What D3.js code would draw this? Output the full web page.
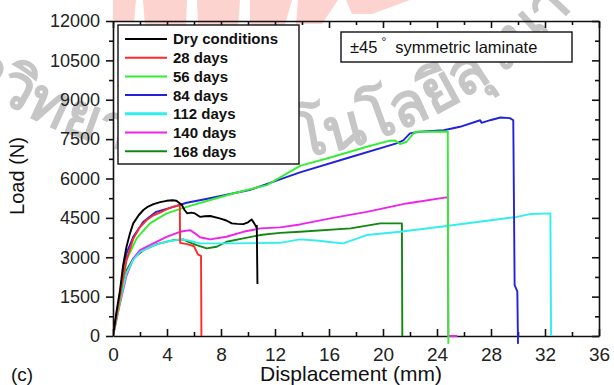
<!DOCTYPE html>
<html>
<head>
<meta charset="utf-8">
<script src="https://cdn.jsdelivr.net/npm/d3@7"></script>
<style>
  body { margin: 0; background: #fff; }
  svg text { font-family: "Liberation Sans", Arial, sans-serif; }
  .axis-y .tick text { font-size: 18px; fill: #222; }
  .axis-x .tick text { font-size: 19px; fill: #222; }
  .legend text { font-size: 15px; font-weight: bold; fill: #111; }
</style>
</head>
<body>
<div id="chart"></div>
<script>
// series names and colours, same order as the legend
const seriesNames = ["Dry conditions", "28 days", "56 days", "84 days", "112 days", "140 days", "168 days"];
const seriesColors = ["#000000", "#ff2a2a", "#33ee33", "#2222dd", "#33eeee", "#ee22ee", "#118811"];

// load-displacement readings [displacement mm, load N]
const dry = [[0,0],[0.25,900],[0.52,1750],[0.75,2700],[1.0,3400],[1.25,3900],[1.5,4290],[1.9,4600],[2.25,4800],[2.6,4930],[3.0,5025],[3.5,5100],[3.97,5150],[4.4,5170],[4.7,5150],[5.1,4990],[5.3,4800],[5.5,4670],[5.8,4700],[6.07,4670],[6.44,4540],[6.8,4560],[7.2,4570],[7.9,4480],[8.4,4400],[8.8,4290],[9.2,4270],[9.65,4260],[10.0,4330],[10.27,4440],[10.44,4310],[10.6,4160],[10.65,4200],[10.7,1980]];
const d28 = [[0,0],[0.5,1500],[1.0,2900],[1.5,3700],[2.0,4150],[2.5,4420],[3.0,4600],[3.48,4700],[4.0,4830],[4.5,4930],[4.95,4980],[4.97,3550],[5.5,3500],[6.0,3420],[6.3,3100],[6.52,3050],[6.55,0]];
const d56 = [[0,0],[0.5,1300],[1.0,2890],[1.75,3720],[2.74,4290],[3.97,4670],[5.46,4920],[7.2,5180],[8.9,5430],[11.4,5750],[13.85,6480],[16.3,6830],[18.8,7210],[20.5,7440],[20.9,7450],[21.26,7310],[21.75,7400],[22.25,7720],[22.5,7780],[24.7,7790],[24.8,7780],[24.84,-300]];
const d84 = [[0,0],[0.5,1550],[1.0,3150],[1.5,3780],[2.25,4350],[3.2,4730],[4.47,4920],[5.46,5075],[7.0,5230],[10.1,5560],[13.85,6230],[17.5,6800],[21.0,7335],[21.5,7450],[22.0,7717],[22.7,7780],[24.5,7840],[25.7,7970],[27.2,8220],[27.3,8120],[28.0,8230],[28.7,8325],[29.4,8300],[29.65,8220],[29.75,1940],[29.95,1700],[30.0,-300]];
const d112 = [[0,0],[0.5,1300],[1.0,2400],[1.5,2900],[2.0,3200],[3.0,3450],[4.0,3600],[5.0,3680],[5.5,3650],[5.95,3590],[6.44,3530],[7.43,3530],[8.9,3530],[12.37,3550],[13.85,3680],[15.3,3630],[16.2,3570],[17.06,3530],[18.0,3700],[18.8,3845],[21.26,3970],[24.7,4190],[27.7,4390],[29.9,4540],[30.9,4645],[32.4,4670],[32.45,0]];
const d140 = [[0,0],[0.5,1200],[1.0,2300],[1.5,2950],[2.0,3270],[2.99,3530],[3.97,3780],[4.96,3970],[5.7,4035],[6.07,3910],[6.44,3760],[7.2,3680],[8.4,3780],[9.65,3970],[10.9,4100],[12.37,4140],[13.85,4250],[16.3,4500],[18.8,4730],[21.75,5050],[24.7,5280],[24.8,5260],[24.84,0],[25.5,0]];
const d168 = [[0,0],[0.5,1400],[1.0,2500],[1.5,2950],[2.25,3270],[3.24,3500],[4.47,3650],[5.2,3680],[5.58,3590],[6.2,3460],[6.94,3340],[7.68,3400],[8.42,3590],[9.65,3720],[10.9,3845],[12.37,3930],[13.85,3970],[17.6,4100],[19.8,4290],[21.4,4290],[21.43,0]];
const seriesData = [dry, d28, d56, d84, d112, d140, d168];

// axis ticks
const xTicks = [0, 4, 8, 12, 16, 20, 24, 28, 32, 36];
const yTicks = [0, 1500, 3000, 4500, 6000, 7500, 9000, 10500, 12000];

const annotation = "symmetric laminate";
const watermark = "มหาวิทยาลัยเทคโนโลยีสุรนารี";

const W = 614, H = 385;
const margin = { top: 21, right: 15, bottom: 49, left: 113 };
const width = W - margin.left - margin.right,
    height = H - margin.top - margin.bottom;

const svg = d3.select("#chart").append("svg")
    .attr("width", W)
    .attr("height", H);

// --- background watermark: pale logo rays + arched university name ---
const wm = svg.append("g").attr("class", "watermark");
const rays = [
    [[113,0],[136,0],[134,22],[113,22]],
    [[143,0],[187,0],[186,25],[145,25]],
    [[197,0],[240,0],[238,28],[198,28]],
    [[250,0],[292,0],[284,28],[250,28]],
    [[298,0],[338,0],[322,24],[296,24]],
    [[346,0],[410,0],[372,14],[352,14]]
];
wm.selectAll("polygon").data(rays).join("polygon")
    .attr("points", d => d.map(p => p.join(",")).join(" "))
    .attr("fill", "#fcd3cf");

const cx = 230, cy = -292, r = 455;
const a0 = -62 * Math.PI / 180, a1 = 62 * Math.PI / 180;
wm.append("defs").append("path")
    .attr("id", "wmArc")
    .attr("d", "M " + (cx + r * Math.sin(a0)) + "," + (cy + r * Math.cos(a0)) +
        " A " + r + " " + r + " 0 0 0 " + (cx + r * Math.sin(a1)) + "," + (cy + r * Math.cos(a1)));
wm.append("text")
    .style("font-family", "'DejaVu Sans', 'Noto Sans', sans-serif")
    .style("font-size", "60px")
    .style("font-weight", "bold")
    .attr("fill", "#c6c6c6")
    .append("textPath")
    .attr("href", "#wmArc")
    .attr("startOffset", 130)
    .text(watermark);

const g = svg.append("g")
    .attr("transform", "translate(" + margin.left + "," + margin.top + ")");

const x = d3.scaleLinear().domain([0, 36]).range([0, width]);
const y = d3.scaleLinear().domain([0, 12000]).range([height, 0]);

// clip so the drops below zero stay just a few pixels under the axis
g.append("clipPath").attr("id", "clip")
    .append("rect").attr("x", 0).attr("y", 0).attr("width", width).attr("height", height + 9);

// minor ticks first
const xMinor = d3.range(2, 36, 4);
const yMinor = d3.range(750, 12000, 1500);

g.append("g")
    .attr("transform", "translate(0," + height + ")")
    .call(d3.axisBottom(x).tickValues(xMinor).tickSize(-4).tickFormat(""))
    .call(a => a.select(".domain").remove());
g.append("g")
    .call(d3.axisTop(x).tickValues(xMinor).tickSize(-4).tickFormat(""))
    .call(a => a.select(".domain").remove());
g.append("g")
    .call(d3.axisLeft(y).tickValues(yMinor).tickSize(4).tickFormat(""))
    .call(a => a.select(".domain").remove());
g.append("g")
    .attr("transform", "translate(" + width + ",0)")
    .call(d3.axisRight(y).tickValues(yMinor).tickSize(-4).tickFormat(""))
    .call(a => a.select(".domain").remove());

// major ticks + frame
g.append("g")
    .attr("class", "axis axis-x")
    .attr("transform", "translate(0," + height + ")")
    .call(d3.axisBottom(x).tickValues(xTicks).tickSize(-7).tickPadding(12).tickSizeOuter(0).tickFormat(d3.format("d")));
g.append("g")
    .call(d3.axisTop(x).tickValues(xTicks).tickSize(-7).tickFormat("").tickSizeOuter(0));
g.append("g")
    .attr("class", "axis axis-y")
    .call(d3.axisLeft(y).tickValues(yTicks).tickSize(7).tickPadding(6).tickSizeOuter(0).tickFormat(d3.format("d")));
g.append("g")
    .attr("transform", "translate(" + width + ",0)")
    .call(d3.axisRight(y).tickValues(yTicks).tickSize(-7).tickFormat("").tickSizeOuter(0));

g.selectAll(".domain, .tick line").attr("stroke", "#111").attr("stroke-width", 1.6);

// curves
const line = d3.line()
    .x(d => x(d[0]))
    .y(d => y(d[1]));

const curves = g.append("g").attr("clip-path", "url(#clip)");
// draw in reverse so the dry curve sits on top
d3.range(seriesData.length).reverse().forEach(i => {
    curves.append("path")
        .datum(seriesData[i])
        .attr("fill", "none")
        .attr("stroke", seriesColors[i])
        .attr("stroke-width", 1.9)
        .attr("stroke-linejoin", "round")
        .attr("d", line);
});

// legend
const legend = svg.append("g").attr("class", "legend")
    .attr("transform", "translate(118,25)");
legend.append("rect")
    .attr("width", 181).attr("height", 139)
    .attr("fill", "#fff").attr("stroke", "#111").attr("stroke-width", 1.4);
seriesNames.forEach((name, i) => {
    const row = legend.append("g").attr("transform", "translate(0," + (14 + i * 18.7) + ")");
    row.append("line")
        .attr("x1", 7).attr("x2", 49)
        .attr("stroke", seriesColors[i])
        .attr("stroke-width", i === 4 ? 3 : 2);
    row.append("text")
        .attr("x", 55).attr("dy", "0.36em")
        .text(name);
});

// annotation box
const ann = svg.append("g").attr("transform", "translate(341,32)");
ann.append("rect")
    .attr("width", 231).attr("height", 30)
    .attr("fill", "#fff").attr("stroke", "#111").attr("stroke-width", 1.4);
const annText = ann.append("text")
    .attr("x", 9).attr("y", 21)
    .style("font-size", "16.5px").attr("fill", "#111");
annText.append("tspan").text("\u00B145");
annText.append("tspan").attr("dy", -7).attr("dx", 4).style("font-size", "12px").text("\u00B0");
annText.append("tspan").attr("dy", 7).attr("dx", 9).text(annotation);

// axis titles
svg.append("text")
    .attr("transform", "translate(24,176) rotate(-90)")
    .attr("text-anchor", "middle")
    .style("font-size", "20px").attr("fill", "#111")
    .text("Load (N)");
svg.append("text")
    .attr("x", 351).attr("y", 381)
    .attr("text-anchor", "middle")
    .style("font-size", "21px").attr("fill", "#111")
    .text("Displacement (mm)");
svg.append("text")
    .attr("x", 11).attr("y", 381)
    .style("font-size", "19px").attr("fill", "#111")
    .text("(c)");
</script>
</body>
</html>
